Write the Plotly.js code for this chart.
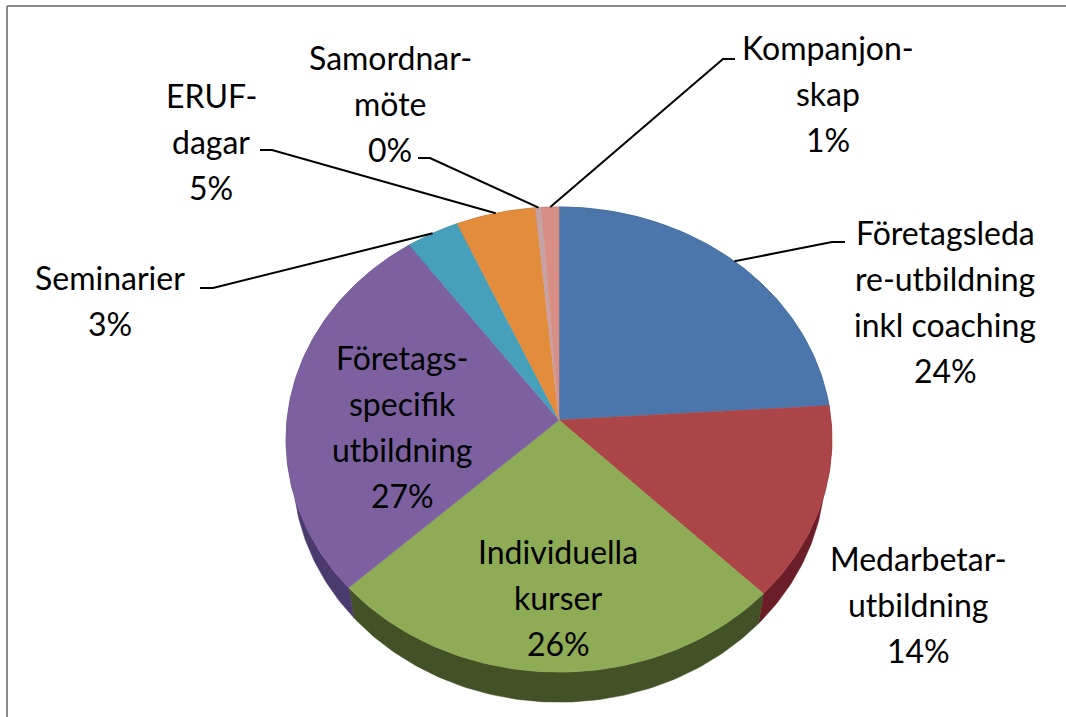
<!DOCTYPE html>
<html><head><meta charset="utf-8">
<script src="https://cdn.plot.ly/plotly-3.0.1.min.js"></script>
<style>html,body{margin:0;padding:0;background:#fff}#chart{width:1066px;height:717px}</style>
</head><body><div id="chart"></div>
<script>
// ---- data ----
const categories = ["Företagsledare-utbildning inkl coaching","Medarbetar-utbildning","Individuella kurser","Företags-specifik utbildning","Seminarier","ERUF-dagar","Samordnar-möte","Kompanjon-skap"];
const values = [24, 13.5, 25.5, 27, 3.4, 5.1, 0.4, 1.1];
const labelLines = [
  ["Företagsleda","re-utbildning","inkl coaching"],
  ["Medarbetar-","utbildning"],
  ["Individuella","kurser"],
  ["Företags-","specifik","utbildning"],
  ["Seminarier"],
  ["ERUF-","dagar"],
  ["Samordnar-","möte"],
  ["Kompanjon-","skap"]
];
const topColors  = ["#4a76ab","#ab4547","#8eab55","#7d60a0","#46a0bb","#e38c3c","#c6a2a6","#d88e84"];
const wallColors = ["#2d4a70","#6b1d28","#435226","#4b3a6e","#2a6478","#8a5520","#7a6468","#85574f"];

// ---- layout (pixels of the 1066x717 frame) ----
const labelX   = [945, 918, 558, 402, 110, 211, 390, 828];
const labelTop = [232, 558, 551, 357, 277,  95,  57,  47];
const lineStep = 46;
const leaders  = {0:[[845,242],[832,242]], 4:[[200,288],[213,288]], 5:[[260,150],[272,150]], 6:[[418,158],[430,158]], 7:[[735,59],[723,59]]};

// perspective disc: centre, radii, tilt, thickness
const CX = 559, CY = 420, RX = 272, RY = 231, K = 0.084, DEPTH = 30, SHRINK = 0.975;
function project(frac){
  const a = 2*Math.PI*frac, w = 1 + K*Math.cos(a);
  return [CX + RX*Math.sin(a)/w, CY - RY*Math.cos(a)/w];
}
function arc(f0, f1){
  const n = Math.max(2, Math.ceil((f1-f0)*400)), pts = [];
  for(let i=0;i<=n;i++) pts.push(project(f0+(f1-f0)*i/n));
  return pts;
}
const total = values.reduce((a,b)=>a+b,0);
let cum = 0;
const spans = values.map(v=>{const s=[cum/total,(cum+v)/total]; cum+=v; return s;});

const walls = spans.map((s,i)=>{
  const top = arc(s[0],s[1]);
  const bot = top.map(p=>[CX+(p[0]-CX)*SHRINK,p[1]+DEPTH]).reverse();
  const pts = top.concat(bot); pts.push(top[0]);
  return {type:"scatter",mode:"lines",x:pts.map(p=>p[0]),y:pts.map(p=>p[1]),fill:"toself",
    fillcolor:wallColors[i],line:{color:wallColors[i],width:0.5},hoverinfo:"skip",showlegend:false};
});
const faces = spans.map((s,i)=>{
  const pts = [[CX,CY]].concat(arc(s[0],s[1])); pts.push([CX,CY]);
  return {type:"scatter",mode:"lines",name:categories[i],x:pts.map(p=>p[0]),y:pts.map(p=>p[1]),fill:"toself",
    fillcolor:topColors[i],line:{color:topColors[i],width:0.5},hoverinfo:"name",showlegend:false};
});
const leaderTraces = Object.keys(leaders).map(k=>{
  const i = +k, end = project((spans[i][0]+spans[i][1])/2), pts = leaders[k].concat([end]);
  return {type:"scatter",mode:"lines",x:pts.map(p=>p[0]),y:pts.map(p=>p[1]),
    line:{color:"#000",width:2},hoverinfo:"skip",showlegend:false};
});

const annotations = [];
labelLines.forEach((lines,i)=>{
  lines.concat([Math.round(values[i])+"%"]).forEach((t,j)=>{
    annotations.push({x:labelX[i],y:labelTop[i]+j*lineStep,xref:"x",yref:"y",text:t,showarrow:false,
      xanchor:"center",yanchor:"middle",font:{family:"Lato, sans-serif",size:32,color:"#000"}});
  });
});

Plotly.newPlot("chart",walls.concat(faces,leaderTraces),{
  width:1066,height:717,margin:{l:0,r:0,t:0,b:0},paper_bgcolor:"#fff",plot_bgcolor:"#fff",showlegend:false,
  xaxis:{range:[0,1066],visible:false,fixedrange:true},
  yaxis:{range:[717,0],visible:false,fixedrange:true},
  annotations:annotations,
  shapes:[
    {type:"line",xref:"x",yref:"y",x0:7,x1:1066,y0:6,y1:6,line:{color:"#8a8a8a",width:2}},
    {type:"line",xref:"x",yref:"y",x0:7,x1:7,y0:6,y1:717,line:{color:"#8a8a8a",width:2}}
  ]
},{displayModeBar:false,staticPlot:false});
</script></body></html>
